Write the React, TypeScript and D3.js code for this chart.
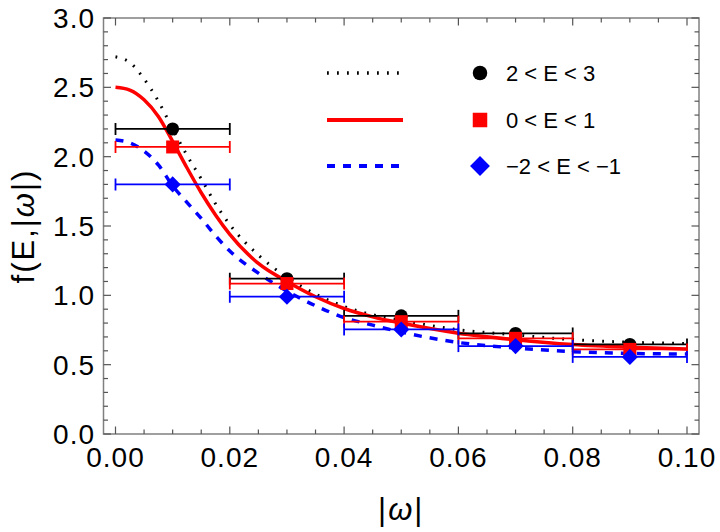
import React, { useRef, useEffect } from "react";
import * as d3 from "d3";

// fitted curves
const curveX = [0, 0.0025, 0.005, 0.0075, 0.01, 0.0125, 0.015, 0.0175, 0.02, 0.025, 0.03, 0.035, 0.04, 0.045, 0.05, 0.06, 0.07, 0.08, 0.09, 0.1];
const blackCurve = [2.72, 2.68, 2.56, 2.4, 2.2, 2.01, 1.84, 1.66, 1.51, 1.29, 1.13, 1.01, 0.92, 0.86, 0.82, 0.752, 0.715, 0.68, 0.662, 0.652];
const redCurve = [2.5, 2.48, 2.41, 2.29, 2.11, 1.92, 1.74, 1.58, 1.44, 1.23, 1.1, 0.99, 0.905, 0.845, 0.8, 0.727, 0.68, 0.645, 0.625, 0.612];
const blueCurve = [2.12, 2.1, 2.04, 1.94, 1.79, 1.67, 1.555, 1.43, 1.32, 1.16, 1.03, 0.925, 0.84, 0.785, 0.735, 0.66, 0.62, 0.594, 0.581, 0.577];

// binned data
const binCenters = [0.01, 0.03, 0.05, 0.07, 0.09];
const binHalfWidth = 0.01;
const blackPoints = [2.2, 1.12, 0.852, 0.725, 0.646];
const redPoints = [2.07, 1.085, 0.81, 0.69, 0.61];
const bluePoints = [1.8, 0.99, 0.754, 0.634, 0.556];

const legendLabels = ["2 < E < 3", "0 < E < 1", "\u22122 < E < \u22121"];

const W = 720;
const H = 532;
const frame = { left: 103.5, right: 699, top: 18, bottom: 434 };
const font = "'Liberation Sans', Arial, sans-serif";

const App: React.FC = () => {
  const svgRef = useRef<SVGSVGElement | null>(null);

  useEffect(() => {
    const svg = d3.select(svgRef.current);
    svg.selectAll("*").remove();

    const x = d3.scaleLinear().domain([-0.0021, 0.1021]).range([frame.left, frame.right]);
    const y = d3.scaleLinear().domain([0, 3]).range([frame.bottom, frame.top]);

    svg
      .append("defs")
      .append("clipPath")
      .attr("id", "plotclip")
      .append("rect")
      .attr("x", frame.left)
      .attr("y", frame.top)
      .attr("width", frame.right - frame.left)
      .attr("height", frame.bottom - frame.top);

    // frame + ticks
    const axisColor = "#808080";
    const g = svg.append("g");
    g.append("rect")
      .attr("x", frame.left)
      .attr("y", frame.top)
      .attr("width", frame.right - frame.left)
      .attr("height", frame.bottom - frame.top)
      .attr("fill", "none")
      .attr("stroke", axisColor)
      .attr("stroke-width", 1.5);

    const xMajor = d3.range(0, 0.1001, 0.02);
    const xMinor = d3.range(0, 0.1001, 0.005).filter((v) => Math.abs(v / 0.02 - Math.round(v / 0.02)) > 1e-6);
    const yMajor = d3.range(0, 3.001, 0.5);
    const yMinor = d3.range(0, 3.001, 0.1).filter((v) => Math.abs(v / 0.5 - Math.round(v / 0.5)) > 1e-6);

    const tickColor = "#555";
    const drawXTicks = (vals: number[], len: number) => {
      vals.forEach((v) => {
        g.append("line").attr("x1", x(v)).attr("x2", x(v)).attr("y1", frame.bottom).attr("y2", frame.bottom - len).attr("stroke", tickColor).attr("stroke-width", 1.2);
        g.append("line").attr("x1", x(v)).attr("x2", x(v)).attr("y1", frame.top).attr("y2", frame.top + len).attr("stroke", tickColor).attr("stroke-width", 1.2);
      });
    };
    const drawYTicks = (vals: number[], len: number) => {
      vals.forEach((v) => {
        g.append("line").attr("y1", y(v)).attr("y2", y(v)).attr("x1", frame.left).attr("x2", frame.left + len).attr("stroke", tickColor).attr("stroke-width", 1.2);
        g.append("line").attr("y1", y(v)).attr("y2", y(v)).attr("x1", frame.right).attr("x2", frame.right - len).attr("stroke", tickColor).attr("stroke-width", 1.2);
      });
    };
    drawXTicks(xMajor, 7.5);
    drawXTicks(xMinor, 4.5);
    drawYTicks(yMajor, 7.5);
    drawYTicks(yMinor, 4.5);

    g.selectAll(".xlab")
      .data(xMajor)
      .enter()
      .append("text")
      .attr("x", (d) => x(d))
      .attr("y", 467)
      .attr("text-anchor", "middle")
      .attr("font-family", font)
      .attr("font-size", 28)
      .attr("letter-spacing", 1)
      .text((d) => d3.format(".2f")(d));

    g.selectAll(".ylab")
      .data(yMajor)
      .enter()
      .append("text")
      .attr("x", 95)
      .attr("y", (d) => y(d) + 10)
      .attr("text-anchor", "end")
      .attr("font-family", font)
      .attr("font-size", 28)
      .attr("letter-spacing", 1)
      .text((d) => d3.format(".1f")(d));

    // axis titles, omega in italic as in the original
    const yTitle = svg
      .append("text")
      .attr("transform", `translate(34,${(frame.top + frame.bottom) / 2}) rotate(-90)`)
      .attr("text-anchor", "middle")
      .attr("font-family", font)
      .attr("font-size", 31)
      .attr("letter-spacing", 2);
    yTitle.append("tspan").text("f(E,|");
    yTitle.append("tspan").attr("font-style", "italic").text("\u03c9");
    yTitle.append("tspan").text("|)");

    const xTitle = svg
      .append("text")
      .attr("x", (frame.left + frame.right) / 2)
      .attr("y", 520)
      .attr("text-anchor", "middle")
      .attr("font-family", font)
      .attr("font-size", 31)
      .attr("letter-spacing", 2);
    xTitle.append("tspan").text("|");
    xTitle.append("tspan").attr("font-style", "italic").text("\u03c9");
    xTitle.append("tspan").text("|");

    // curves
    const line = d3
      .line<number>()
      .x((_, i) => x(curveX[i]))
      .y((d) => y(d))
      .curve(d3.curveMonotoneX);

    const plot = svg.append("g").attr("clip-path", "url(#plotclip)");
    const curveStyles = [
      { data: blackCurve, color: "black", width: 3, dash: "1.8,8.2" },
      { data: redCurve, color: "#ff0000", width: 3.5, dash: null },
      { data: blueCurve, color: "#0000ff", width: 3.5, dash: "8,8" },
    ];
    curveStyles.forEach((c) => {
      const p = plot.append("path").attr("d", line(c.data)).attr("fill", "none").attr("stroke", c.color).attr("stroke-width", c.width);
      if (c.dash) p.attr("stroke-dasharray", c.dash);
    });

    // error bars + markers
    const series = [
      { vals: blackPoints, color: "black", shape: "circle" },
      { vals: redPoints, color: "#ff0000", shape: "square" },
      { vals: bluePoints, color: "#0000ff", shape: "diamond" },
    ];
    series.forEach((s) => {
      s.vals.forEach((v, i) => {
        const cx = binCenters[i];
        const x0 = x(cx - binHalfWidth);
        const x1 = x(cx + binHalfWidth);
        const yy = y(v);
        plot.append("line").attr("x1", x0).attr("x2", x1).attr("y1", yy).attr("y2", yy).attr("stroke", s.color).attr("stroke-width", 1.8);
        [x0, x1].forEach((xe) =>
          plot.append("line").attr("x1", xe).attr("x2", xe).attr("y1", yy - 6).attr("y2", yy + 6).attr("stroke", s.color).attr("stroke-width", 1.8)
        );
      });
    });

    const drawMarker = (sel: any, shape: string, px: number, py: number, color: string, size: number) => {
      if (shape === "circle") {
        sel.append("circle").attr("cx", px).attr("cy", py).attr("r", size / 2).attr("fill", color);
      } else if (shape === "square") {
        sel.append("rect").attr("x", px - size / 2).attr("y", py - size / 2).attr("width", size).attr("height", size).attr("fill", color);
      } else {
        const r = size * 0.62;
        sel
          .append("path")
          .attr("d", `M${px},${py - r}L${px + r},${py}L${px},${py + r}L${px - r},${py}Z`)
          .attr("fill", color);
      }
    };

    series.forEach((s) => {
      s.vals.forEach((v, i) => drawMarker(plot, s.shape, x(binCenters[i]), y(v), s.color, 13));
    });

    // legend
    const leg = svg.append("g");
    const rowY = [73, 120, 166];
    curveStyles.forEach((c, i) => {
      const l = leg
        .append("line")
        .attr("x1", 327)
        .attr("x2", 403)
        .attr("y1", rowY[i])
        .attr("y2", rowY[i])
        .attr("stroke", c.color)
        .attr("stroke-width", c.width + 0.6);
      if (c.dash) l.attr("stroke-dasharray", c.dash);
      drawMarker(leg, series[i].shape, 480, rowY[i], series[i].color, i === 2 ? 16 : 14.5);
      leg
        .append("text")
        .attr("x", 506)
        .attr("y", rowY[i] + 8)
        .attr("font-family", font)
        .attr("font-size", 22)
        .text(legendLabels[i]);
    });
  }, []);

  return <svg ref={svgRef} width={W} height={H} style={{ position: "absolute", left: 0, top: 0, background: "white" }} />;
};

export default App;
